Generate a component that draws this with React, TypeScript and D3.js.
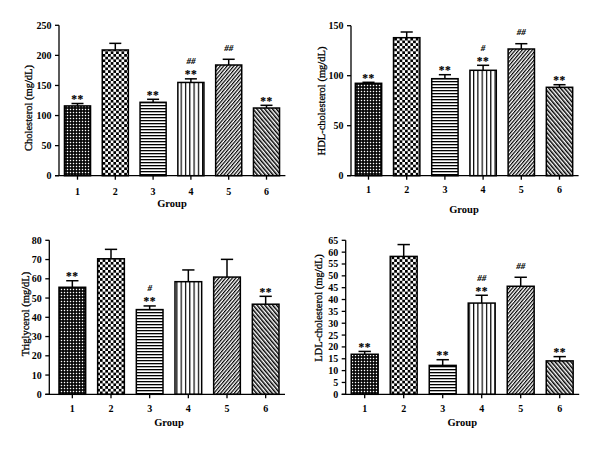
import React from "react";
import * as d3 from "d3";

const groups = ["1", "2", "3", "4", "5", "6"];

const cholMean = [116, 209, 122, 155, 184, 112.5];
const cholErr = [4, 11, 5, 6, 9.5, 4.5];
const cholStars = ["**", "", "**", "**", "", "**"];
const cholHash = ["", "", "", "##", "##", ""];

const hdlMean = [92.4, 138, 97, 105.4, 126.7, 88.4];
const hdlErr = [1, 5.7, 4, 5, 5.3, 2.6];
const hdlStars = ["**", "", "**", "**", "", "**"];
const hdlHash = ["", "", "", "#", "##", ""];

const tgMean = [55.6, 70.4, 44, 58.5, 60.9, 46.8];
const tgErr = [3.4, 4.9, 1.9, 6.1, 9.2, 4.1];
const tgStars = ["**", "", "**", "", "", "**"];
const tgHash = ["", "", "#", "", "", ""];

const ldlMean = [16.9, 58.2, 12.2, 38.5, 45.6, 14.1];
const ldlErr = [1.2, 5, 2.4, 3.3, 3.8, 1.8];
const ldlStars = ["**", "", "**", "**", "", "**"];
const ldlHash = ["", "", "", "##", "##", ""];

const panels = [
  { title: "Cholesterol (mg/dL)", mean: cholMean, err: cholErr, stars: cholStars, hash: cholHash, max: 250, step: 50,
    axisX: 59, r0: 58.6, r1: 285.4, yTop: 25.3, yBot: 175.7, titleX: 28.5, titleY: 108, tickY: 191, groupY: 203 },
  { title: "HDL-cholesterol (mg/dL)", mean: hdlMean, err: hdlErr, stars: hdlStars, hash: hdlHash, max: 150, step: 50,
    axisX: 351, r0: 349.4, r1: 578.6, yTop: 25.7, yBot: 175.7, titleX: 321.5, titleY: 101, tickY: 189.5, groupY: 209 },
  { title: "Triglycerol (mg/dL)", mean: tgMean, err: tgErr, stars: tgStars, hash: tgHash, max: 80, step: 10,
    axisX: 49.3, r0: 53, r1: 285, yTop: 240.3, yBot: 394.3, titleX: 25, titleY: 314, tickY: 408.5, groupY: 422 },
  { title: "LDL-cholesterol (mg/dL)", mean: ldlMean, err: ldlErr, stars: ldlStars, hash: ldlHash, max: 65, step: 5,
    axisX: 345.7, r0: 345.2, r1: 579.2, yTop: 240.3, yBot: 394.3, titleX: 318.5, titleY: 308, tickY: 408.5, groupY: 422 },
];

const font = "'Liberation Serif', 'DejaVu Serif', serif";

function Patterns() {
  return (
    <defs>
      <pattern id="p1" width={3} height={3} patternUnits="userSpaceOnUse">
        <rect width={3} height={3} fill="#000" />
        <rect x={0.8} y={0.8} width={1.4} height={1.4} fill="#fff" />
      </pattern>
      <pattern id="p2" width={5.4} height={5.4} patternUnits="userSpaceOnUse">
        <rect width={5.4} height={5.4} fill="#fff" />
        <rect x={0} y={0} width={2.7} height={2.7} fill="#000" />
        <rect x={2.7} y={2.7} width={2.7} height={2.7} fill="#000" />
      </pattern>
      <pattern id="p3" width={4} height={3} patternUnits="userSpaceOnUse">
        <rect width={4} height={3} fill="#fff" />
        <rect x={0} y={0} width={4} height={1.3} fill="#000" />
      </pattern>
      <pattern id="p4" width={4.3} height={4} patternUnits="userSpaceOnUse">
        <rect width={4.3} height={4} fill="#fff" />
        <rect x={0} y={0} width={1.2} height={4} fill="#000" />
      </pattern>
      <pattern id="p5" width={2.6} height={4} patternUnits="userSpaceOnUse" patternTransform="rotate(40)">
        <rect width={2.6} height={4} fill="#fff" />
        <rect x={0} y={0} width={1.2} height={4} fill="#000" />
      </pattern>
      <pattern id="p6" width={3} height={4} patternUnits="userSpaceOnUse" patternTransform="rotate(-40)">
        <rect width={3} height={4} fill="#fff" />
        <rect x={0} y={0} width={1.5} height={4} fill="#000" />
      </pattern>
    </defs>
  );
}

function Panel({ p }: { p: any }) {
  const x = d3.scaleBand<string>().domain(groups).range([p.r0, p.r1]).paddingInner(0.31).paddingOuter(0.155);
  const y = d3.scaleLinear().domain([0, p.max]).range([p.yBot, p.yTop]);
  const ticks = d3.range(0, p.max + 0.001, p.step);
  const bw = x.bandwidth();
  const capW = bw * 0.46;
  return (
    <g fontFamily={font}>
      {groups.map((g, i) => {
        const x0 = x(g)!;
        const cx = x0 + bw / 2;
        const top = y(p.mean[i]);
        const eTop = y(p.mean[i] + p.err[i]);
        const st = p.stars[i];
        const hs = p.hash[i];
        return (
          <g key={g}>
            <line x1={cx} x2={cx} y1={top} y2={eTop} stroke="#000" strokeWidth={1.5} />
            <line x1={cx - capW / 2} x2={cx + capW / 2} y1={eTop} y2={eTop} stroke="#000" strokeWidth={1.5} />
            <rect x={x0} y={top} width={bw} height={p.yBot - top} fill={`url(#p${i + 1})`} stroke="#000" strokeWidth={1.5} />
            {st && (
              <text x={cx} y={eTop - 0.5} textAnchor="middle" fontSize={11.5} fontWeight="bold" fill="#000"
                stroke="#000" strokeWidth={0.12} letterSpacing={0.5}>{st}</text>
            )}
            {hs && (
              <text x={cx} y={st ? eTop - 14.5 : eTop - 8.5} textAnchor="middle" fontSize={9} fontWeight="bold" fontStyle="italic"
                fill="#000" stroke="#000" strokeWidth={0.12}>{hs}</text>
            )}
          </g>
        );
      })}
      <line x1={p.axisX} x2={p.axisX} y1={p.yTop} y2={p.yBot} stroke="#000" strokeWidth={1.3} />
      {ticks.map((t: number) => (
        <g key={t}>
          <line x1={p.axisX - 4} x2={p.axisX} y1={y(t)} y2={y(t)} stroke="#000" strokeWidth={1.3} />
          <text x={p.axisX - 7.5} y={y(t)} dy="0.35em" textAnchor="end" fontSize={10} fontWeight="bold">{t}</text>
        </g>
      ))}
      <line x1={p.axisX - 4} x2={p.r1} y1={p.yBot} y2={p.yBot} stroke="#000" strokeWidth={1.3} />
      {groups.map((g) => {
        const cx = x(g)! + bw / 2;
        return (
          <g key={g}>
            <line x1={cx} x2={cx} y1={p.yBot} y2={p.yBot + 4} stroke="#000" strokeWidth={1.3} />
            <text x={cx} y={p.tickY} dy="0.35em" textAnchor="middle" fontSize={10} fontWeight="bold">{g}</text>
          </g>
        );
      })}
      <text x={(p.r0 + p.r1) / 2} y={p.groupY} dy="0.35em" textAnchor="middle" fontSize={10.5} fontWeight="bold">Group</text>
      <text transform={`translate(${p.titleX},${p.titleY}) rotate(-90)`} dy="0.35em" textAnchor="middle" fontSize={10.5}
        stroke="#000" strokeWidth={0.3}>{p.title}</text>
    </g>
  );
}

export default function App() {
  return (
    <svg width={600} height={449} style={{ position: "absolute", left: 0, top: 0, background: "#fff" }}>
      <rect width={600} height={449} fill="#fff" />
      <Patterns />
      {panels.map((p, i) => (
        <Panel key={i} p={p} />
      ))}
    </svg>
  );
}
